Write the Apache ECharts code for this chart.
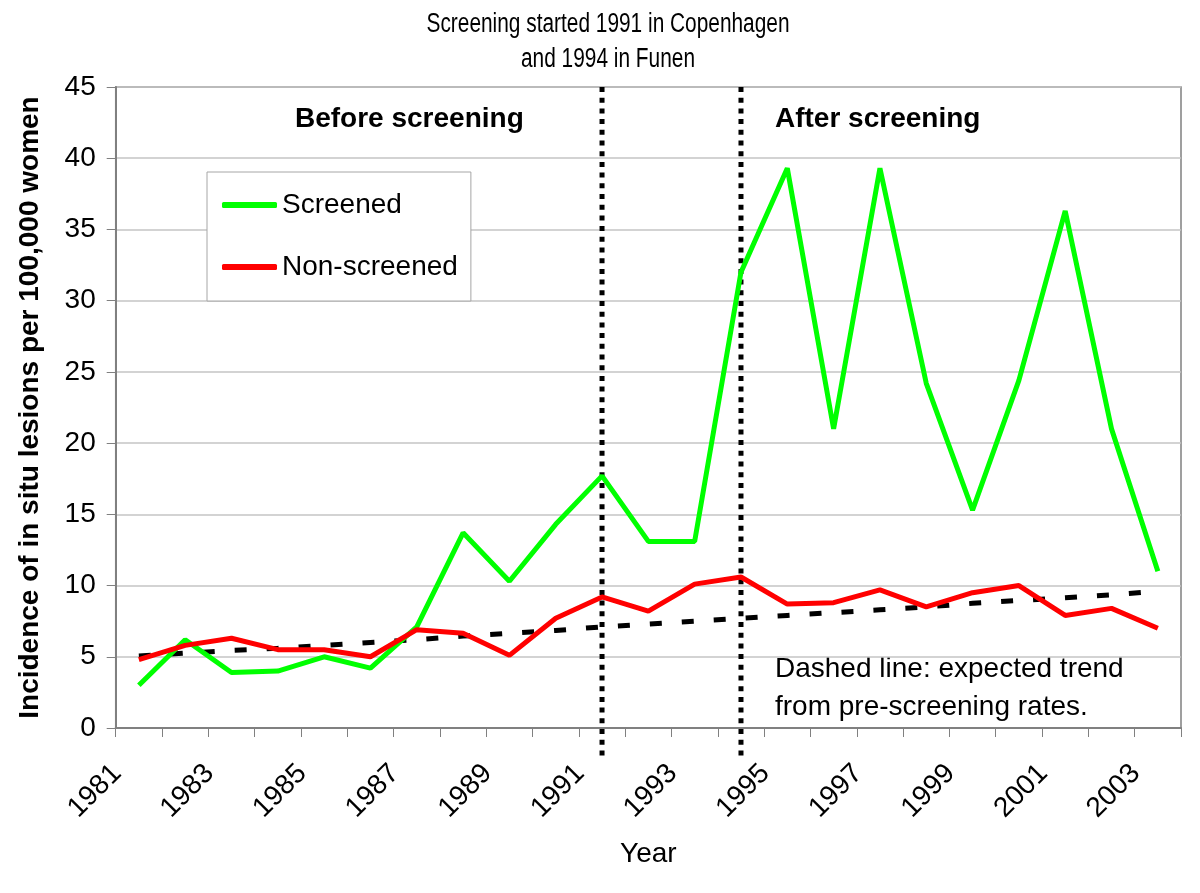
<!DOCTYPE html>
<html>
<head>
<meta charset="utf-8">
<script src="https://cdn.jsdelivr.net/npm/echarts@6/dist/echarts.min.js"></script>
<style>
html,body{margin:0;padding:0;background:#fff;}
#chart{width:1200px;height:893px;}
</style>
</head>
<body>
<div id="chart"></div>
<script>
var years = ['1981','1982','1983','1984','1985','1986','1987','1988','1989','1990','1991','1992','1993','1994','1995','1996','1997','1998','1999','2000','2001','2002','2003'];
var screened = [3.0, 6.2, 3.9, 4.0, 5.0, 4.2, 7.1, 13.7, 10.3, 14.3, 17.7, 13.1, 13.1, 32.0, 39.3, 21.0, 39.3, 24.2, 15.3, 24.4, 36.3, 21.0, 11.0];
var nonScreened = [4.8, 5.8, 6.3, 5.5, 5.5, 5.0, 6.9, 6.65, 5.1, 7.7, 9.2, 8.2, 10.1, 10.6, 8.7, 8.8, 9.7, 8.5, 9.5, 10.0, 7.9, 8.4, 7.0];
var expectedTrend = [5.05, 5.25, 5.45, 5.6, 5.8, 6.0, 6.2, 6.45, 6.65, 6.85, 7.1, 7.3, 7.5, 7.7, 7.9, 8.1, 8.3, 8.5, 8.75, 8.95, 9.15, 9.35, 9.6];
var screeningStartYears = ['1991', '1994'];
var yTop = 45, yBelow = -2;

var FONT = '"Liberation Sans", Arial, sans-serif';
var titleText = 'Screening started 1991 in Copenhagen\nand 1994 in Funen';

// the reference title is a horizontally condensed face: squeeze regular text to its width
var titleFont = '27px ' + FONT;
var titleScaleX = 1;
(function () {
  var c = document.createElement('canvas').getContext('2d');
  c.font = titleFont;
  var w = c.measureText('Screening started 1991 in Copenhagen').width;
  if (w > 0) titleScaleX = 363 / w;
})();

var chart = echarts.init(document.getElementById('chart'), null, {renderer: 'canvas'});

var vSeries = screeningStartYears.map(function (yr) {
  return {
    type: 'line', name: 'start' + yr,
    data: [[yr, yTop], [yr, yBelow]],
    symbol: 'none', clip: false, silent: true, z: 1,
    lineStyle: {color: '#000', width: 5, type: [5, 5.7], cap: 'butt'}
  };
});

chart.setOption({
  backgroundColor: '#fff',
  animation: false,
  grid: {left: 115.7, right: 19, top: 87, bottom: 165, show: true, borderColor: '#808080', borderWidth: 1.5, containLabel: false},
  legend: {
    orient: 'vertical', left: 207, top: 172,
    data: [{name: 'Screened', icon: 'roundRect'}, {name: 'Non-screened', icon: 'roundRect'}],
    itemWidth: 55, itemHeight: 6, itemGap: 30,
    padding: [17, 13, 18, 15],
    borderColor: '#a6a6a6', borderWidth: 1, backgroundColor: '#fff',
    textStyle: {fontFamily: FONT, fontSize: 28, color: '#000', lineHeight: 32}
  },
  xAxis: {
    type: 'category', data: years, boundaryGap: true,
    name: 'Year', nameLocation: 'middle', nameGap: 112,
    nameTextStyle: {fontFamily: FONT, fontSize: 28, color: '#000'},
    axisLine: {lineStyle: {color: '#808080', width: 2}},
    axisTick: {show: true, interval: 0, length: 9, lineStyle: {color: '#808080', width: 1}},
    axisLabel: {interval: 1, rotate: 45, margin: 19, padding: [0, 31, 0, 0], fontFamily: FONT, fontSize: 28, color: '#000'},
    splitLine: {show: false}
  },
  yAxis: {
    type: 'value', min: 0, max: 45, interval: 5,
    name: 'Incidence of in situ lesions per 100,000 women', nameLocation: 'middle', nameGap: 71,
    nameTextStyle: {fontFamily: FONT, fontSize: 28, fontWeight: 'bold', color: '#000'},
    axisLine: {show: true, lineStyle: {color: '#808080', width: 2}},
    axisTick: {show: true, length: 9, lineStyle: {color: '#808080', width: 1}},
    axisLabel: {margin: 20, fontFamily: FONT, fontSize: 28, color: '#000'},
    splitLine: {show: true, lineStyle: {color: '#c4c4c4', width: 1.5}}
  },
  graphic: [
    {type: 'text', x: 608, y: 42.5, scaleX: titleScaleX, style: {text: titleText, font: titleFont, fill: '#000', align: 'center', verticalAlign: 'middle', lineHeight: 35}},
    {type: 'text', left: 295, top: 105, style: {text: 'Before screening', font: 'bold 28px ' + FONT, fill: '#000'}},
    {type: 'text', left: 775, top: 105, style: {text: 'After screening', font: 'bold 28px ' + FONT, fill: '#000'}},
    {type: 'text', left: 775, top: 650, style: {text: 'Dashed line: expected trend\nfrom pre-screening rates.', font: '28px ' + FONT, fill: '#000', lineHeight: 38}}
  ],
  series: [
    {name: 'Screened', type: 'line', data: screened, symbol: 'none', z: 4,
     lineStyle: {color: '#00ff00', width: 5}, itemStyle: {color: '#00ff00'}},
    {name: 'Non-screened', type: 'line', data: nonScreened, symbol: 'none', z: 5,
     lineStyle: {color: '#ff0000', width: 5}, itemStyle: {color: '#ff0000'}},
    {name: 'Expected trend', type: 'line', data: expectedTrend, symbol: 'none', z: 3,
     lineStyle: {color: '#000', width: 5, type: [12, 20], cap: 'butt'}}
  ].concat(vSeries)
});
</script>
</body>
</html>
